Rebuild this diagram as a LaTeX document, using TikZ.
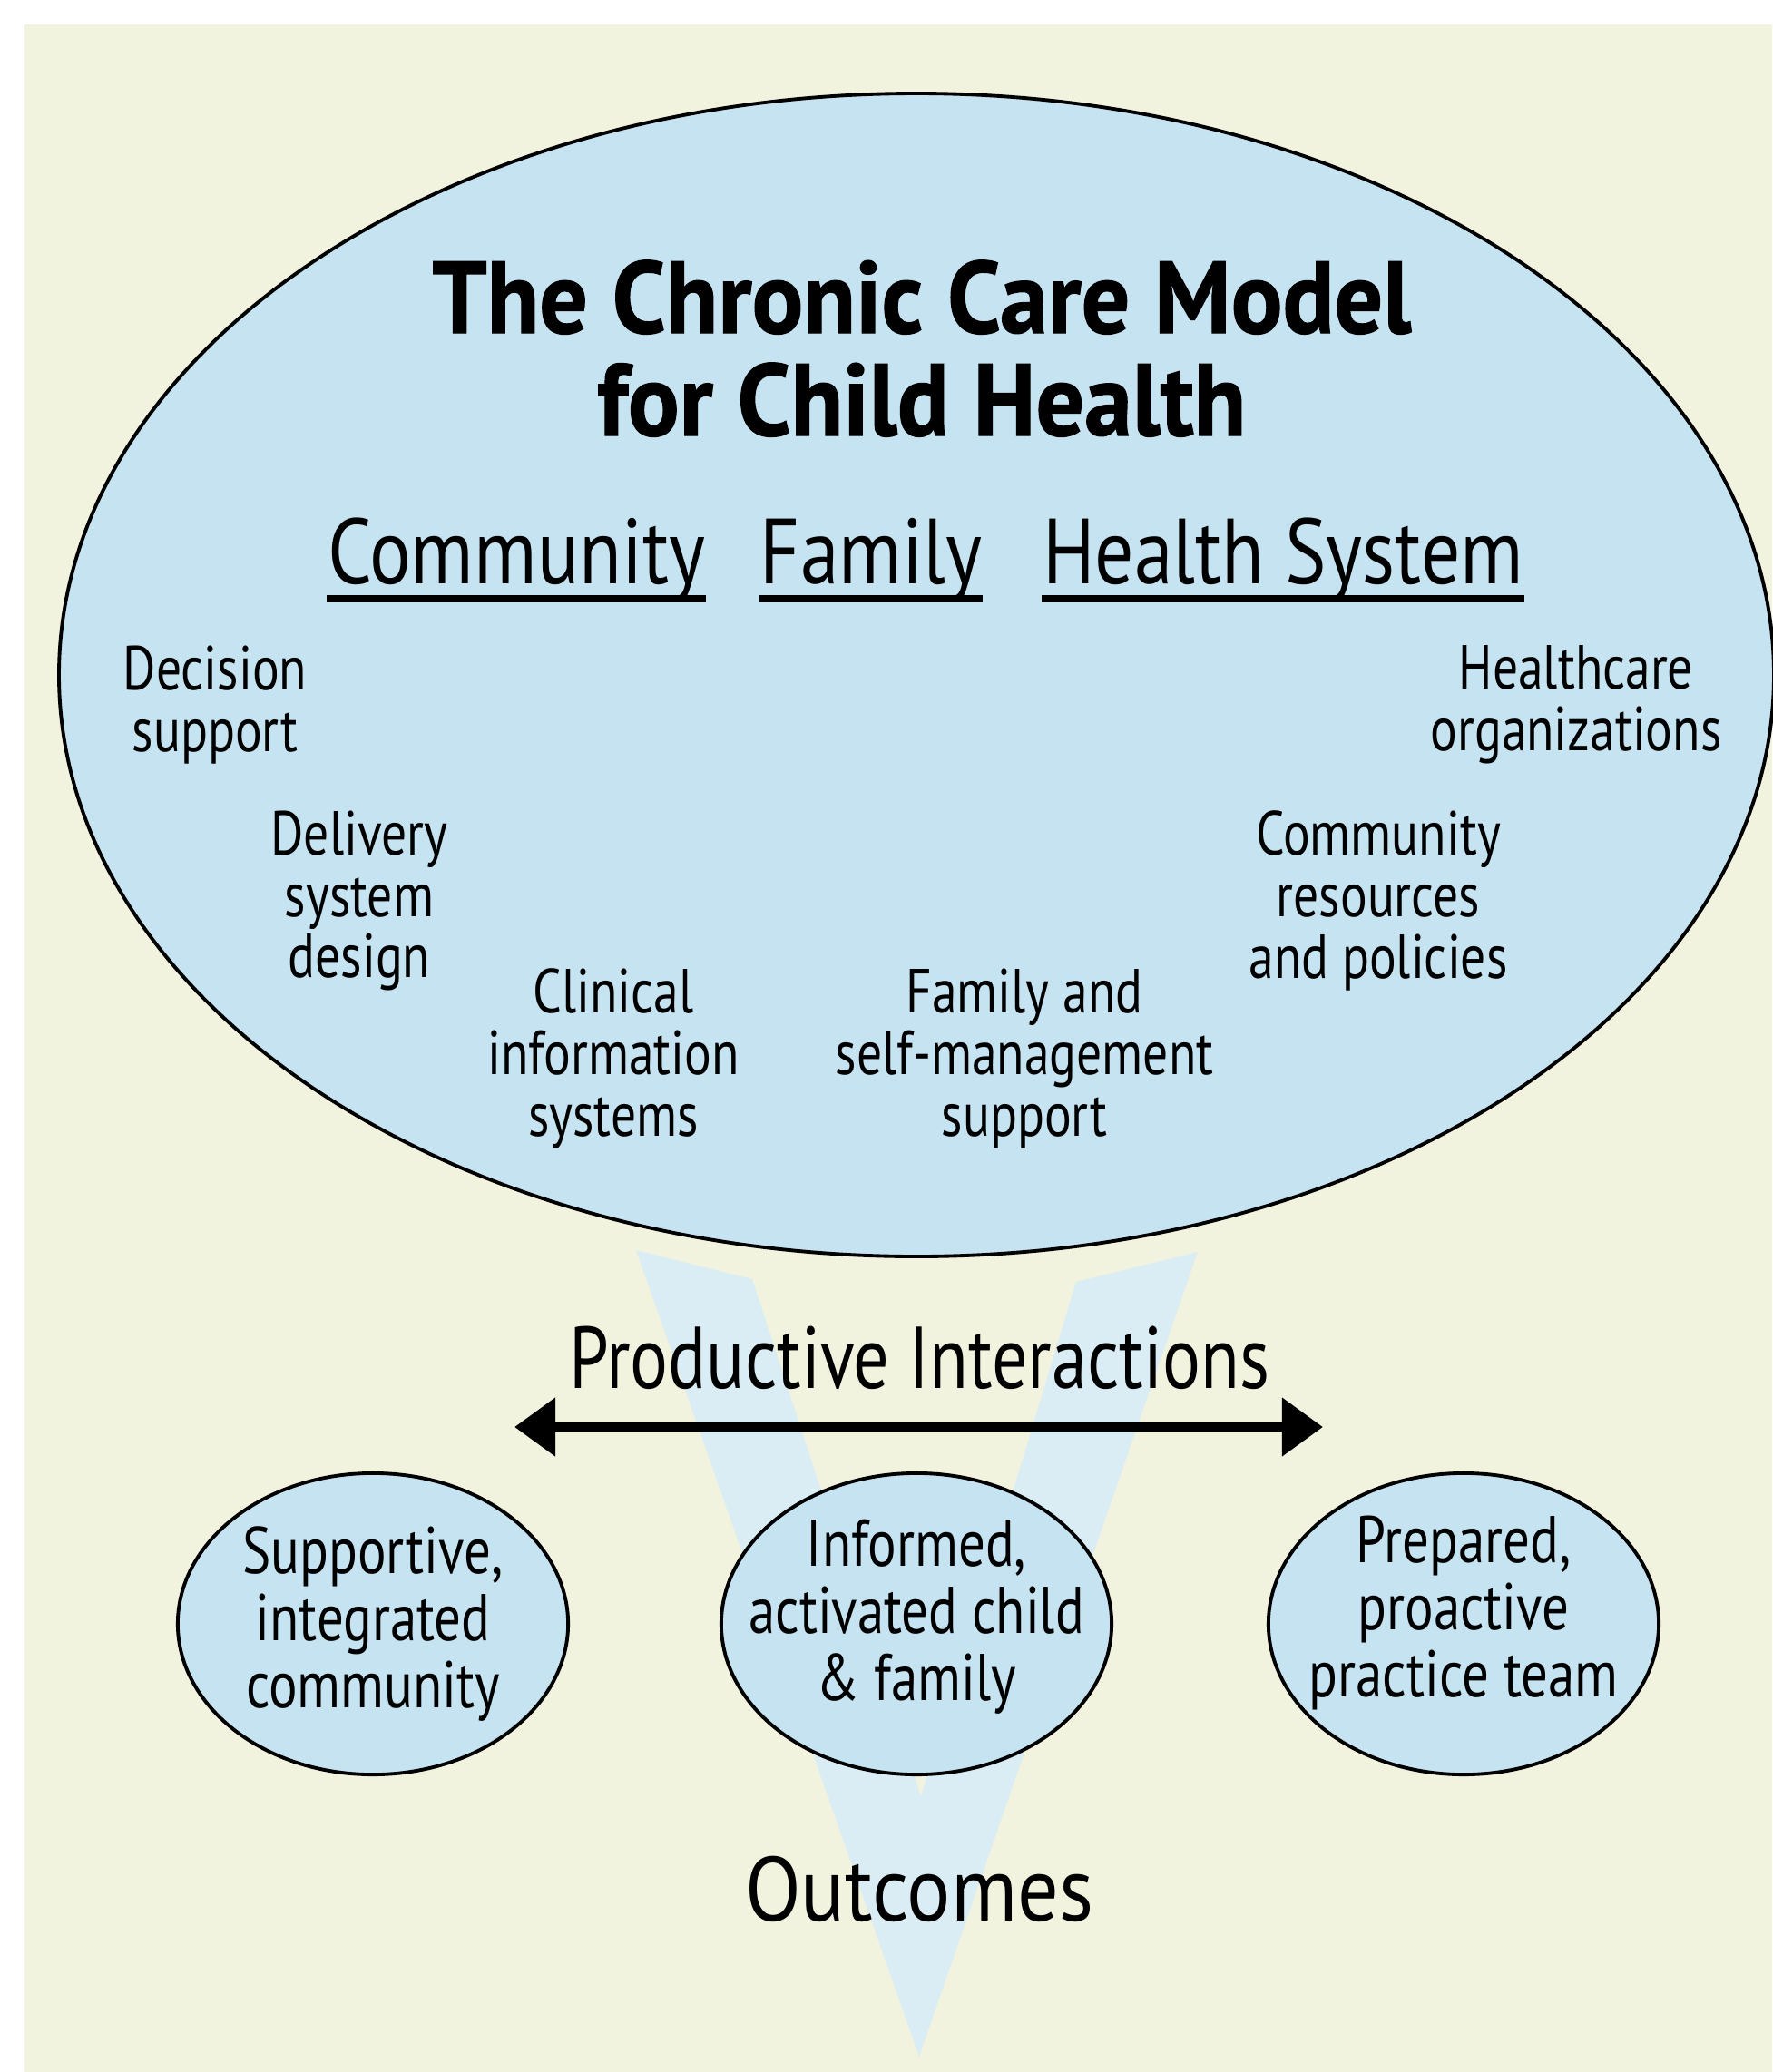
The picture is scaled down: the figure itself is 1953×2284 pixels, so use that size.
\documentclass[tikz,border=0pt]{standalone}
\usepackage{fontspec}
\setmainfont{PT Sans}[FakeStretch=0.81, BoldFeatures={FakeStretch=0.94, FakeBold=1}]
\newfontfamily\headfont{PT Sans}[FakeStretch=0.84]
\newfontfamily\widefont{PT Sans}[FakeStretch=0.90]
\usetikzlibrary{arrows.meta,shapes.geometric}

\definecolor{panel}{RGB}{241,243,222}
\definecolor{ovalblue}{RGB}{197,227,240}
\definecolor{vblue}{RGB}{218,237,244}

\tikzset{
  bigoval/.style={fill=ovalblue, draw=black, line width=1.1pt},
  vband/.style={fill=vblue},
  titletext/.style={font=\fontsize{32}{33}\selectfont\bfseries, inner sep=0pt, anchor=base},
  header/.style={font=\headfont\fontsize{29}{30}\selectfont, inner sep=0pt, anchor=base},
  underbar/.style={line width=2.5pt, line cap=butt},
  component/.style={font=\fontsize{19.5}{19.3}\selectfont, align=center},
  outcome/.style={ellipse, draw=black, line width=1.1pt, fill=ovalblue,
    minimum width=4.3cm, minimum height=3.32cm, inner sep=0pt},
  outcometext/.style={font=\fontsize{20.7}{21}\selectfont, align=center},
  bigtext/.style={font=\fontsize{27.5}{30}\selectfont, anchor=base},
  interaction/.style={line width=3.1pt,
    {Triangle[length=0.45cm,width=0.62cm]}-{Triangle[length=0.45cm,width=0.62cm]}},
}

\begin{document}
\begin{tikzpicture}[x=0.01cm, y=-0.01cm]
    \useasboundingbox (0,0) rectangle (1953,2284);
    \fill[panel] (27,27) rectangle (1953,2284);

    % The V behind everything
    \fill[vband] (701,1378) -- (829,1410) -- (1015,1980) -- (1186,1413)
        -- (1320,1380) -- (1013,2267) -- cycle;

    % The model
    \filldraw[bigoval] (1010,744) ellipse (945 and 641);

    \node[titletext] (title1) at (1016,367) {The Chronic Care Model};
    \node[titletext] (title2) at (1016,480) {for Child Health};

    \node[header] (community) at (569,643) {Community};
    \node[header] (family) at (960,643) {Family};
    \node[header] (healthsys) at (1414,643) {Health System};
    \foreach \h in {community,family,healthsys}
        \draw[underbar] ([yshift=-0.17cm]\h.base west) -- ([yshift=-0.17cm]\h.base east);

    % Elements
    \node[component] (decision) at (237,777) {Decision\\support};
    \node[component] (healthorg) at (1737,777) {Healthcare\\organizations};
    \node[component] (delivery) at (396,993) {Delivery\\system\\design};
    \node[component] (resources) at (1519,993) {Community\\resources\\and policies};
    \node[component] (clinical) at (676,1167) {Clinical\\information\\systems};
    \node[component] (selfmgmt) at (1129,1167) {Family and\\self-management\\support};

    % Interactions
    \node[bigtext] (productive) at (1013,1530) {Productive Interactions};
    \coordinate (pleft) at (567,1573);
    \coordinate (pright) at (1458,1573);
    \draw[interaction] (pleft) -- (pright);

    % Outcomes
    \node[outcome] (supportive) at (411,1790) {};
    \node[outcome] (informed) at (1010,1790) {};
    \node[outcome] (prepared) at (1613,1790) {};
    \node[outcometext] at (supportive.center) {Supportive,\\integrated\\community};
    \node[outcometext] at ([yshift=0.08cm]informed.center) {Informed,\\activated child\\\& family};
    \node[outcometext] at ([yshift=0.12cm]prepared.center) {Prepared,\\proactive\\practice team};

    \node[bigtext, font=\widefont\fontsize{28.5}{30}\selectfont] (outcomes) at (1013,2117) {Outcomes};
\end{tikzpicture}
\end{document}
